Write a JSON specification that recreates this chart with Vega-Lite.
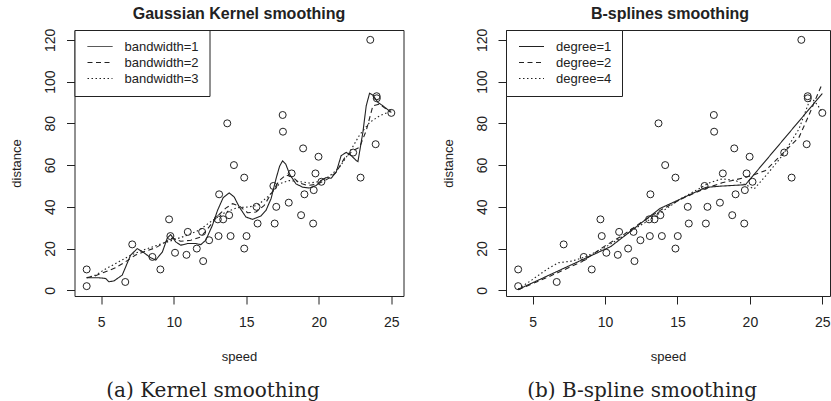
{
  "$schema": "https://vega.github.io/schema/vega-lite/v6.json",
  "background": "white",
  "padding": {"left": 9.5, "top": 5, "right": 0, "bottom": 0},
  "spacing": 36.5,
  "resolve": {"scale": {"strokeDash": "independent"}, "legend": {"strokeDash": "independent"}},
  "datasets": {
    "pts": [
      {"speed": 4, "dist": 10}, {"speed": 4, "dist": 2}, {"speed": 6.66, "dist": 4}, {"speed": 7.14, "dist": 22},
      {"speed": 8.53, "dist": 16}, {"speed": 9.08, "dist": 10}, {"speed": 9.68, "dist": 34}, {"speed": 9.77, "dist": 26},
      {"speed": 10.09, "dist": 18}, {"speed": 10.88, "dist": 17}, {"speed": 10.97, "dist": 28}, {"speed": 11.59, "dist": 20},
      {"speed": 12.03, "dist": 14}, {"speed": 11.96, "dist": 28}, {"speed": 12.44, "dist": 24}, {"speed": 13.09, "dist": 26},
      {"speed": 13.13, "dist": 46}, {"speed": 13.04, "dist": 34}, {"speed": 13.41, "dist": 34}, {"speed": 13.69, "dist": 80},
      {"speed": 13.82, "dist": 36}, {"speed": 13.92, "dist": 26}, {"speed": 14.15, "dist": 60}, {"speed": 14.86, "dist": 20},
      {"speed": 14.86, "dist": 54}, {"speed": 15.02, "dist": 26}, {"speed": 15.71, "dist": 40}, {"speed": 15.78, "dist": 32},
      {"speed": 16.96, "dist": 32}, {"speed": 17.07, "dist": 40}, {"speed": 16.87, "dist": 50}, {"speed": 17.51, "dist": 84},
      {"speed": 17.53, "dist": 76}, {"speed": 17.93, "dist": 42}, {"speed": 18.13, "dist": 56}, {"speed": 18.78, "dist": 36},
      {"speed": 18.92, "dist": 68}, {"speed": 19.01, "dist": 46}, {"speed": 19.61, "dist": 32}, {"speed": 19.65, "dist": 48},
      {"speed": 19.77, "dist": 56}, {"speed": 19.98, "dist": 64}, {"speed": 20.18, "dist": 52}, {"speed": 22.37, "dist": 66},
      {"speed": 22.88, "dist": 54}, {"speed": 23.55, "dist": 120}, {"speed": 23.92, "dist": 70}, {"speed": 23.99, "dist": 93},
      {"speed": 24.0, "dist": 92}, {"speed": 25.0, "dist": 85}
    ],
    "kern": [
      {"speed": 4.0, "dist": 6.0, "s": "bandwidth=1"}, {"speed": 4.84, "dist": 6.0, "s": "bandwidth=1"}, {"speed": 5.3, "dist": 5.7, "s": "bandwidth=1"},
      {"speed": 5.53, "dist": 4.1, "s": "bandwidth=1"}, {"speed": 5.88, "dist": 4.5, "s": "bandwidth=1"}, {"speed": 6.45, "dist": 7.3, "s": "bandwidth=1"},
      {"speed": 7.03, "dist": 16.9, "s": "bandwidth=1"}, {"speed": 7.49, "dist": 20, "s": "bandwidth=1"}, {"speed": 7.95, "dist": 18, "s": "bandwidth=1"},
      {"speed": 8.41, "dist": 15.6, "s": "bandwidth=1"}, {"speed": 8.76, "dist": 14.5, "s": "bandwidth=1"}, {"speed": 9.22, "dist": 18.4, "s": "bandwidth=1"},
      {"speed": 9.56, "dist": 25.1, "s": "bandwidth=1"}, {"speed": 9.79, "dist": 26.7, "s": "bandwidth=1"}, {"speed": 10.14, "dist": 23.2, "s": "bandwidth=1"},
      {"speed": 10.48, "dist": 21.6, "s": "bandwidth=1"}, {"speed": 10.94, "dist": 22.4, "s": "bandwidth=1"}, {"speed": 11.52, "dist": 22.4, "s": "bandwidth=1"},
      {"speed": 11.87, "dist": 21.9, "s": "bandwidth=1"}, {"speed": 12.21, "dist": 24, "s": "bandwidth=1"}, {"speed": 12.67, "dist": 31.2, "s": "bandwidth=1"},
      {"speed": 13.02, "dist": 38.3, "s": "bandwidth=1"}, {"speed": 13.41, "dist": 44.4, "s": "bandwidth=1"}, {"speed": 13.82, "dist": 46.7, "s": "bandwidth=1"},
      {"speed": 14.17, "dist": 44.7, "s": "bandwidth=1"}, {"speed": 14.52, "dist": 39.9, "s": "bandwidth=1"}, {"speed": 14.98, "dist": 35.1, "s": "bandwidth=1"},
      {"speed": 15.44, "dist": 34.0, "s": "bandwidth=1"}, {"speed": 16.01, "dist": 35.6, "s": "bandwidth=1"}, {"speed": 16.36, "dist": 38.3, "s": "bandwidth=1"},
      {"speed": 16.71, "dist": 43.9, "s": "bandwidth=1"}, {"speed": 17.05, "dist": 53.4, "s": "bandwidth=1"}, {"speed": 17.3, "dist": 59.5, "s": "bandwidth=1"},
      {"speed": 17.5, "dist": 62, "s": "bandwidth=1"}, {"speed": 17.72, "dist": 60.5, "s": "bandwidth=1"}, {"speed": 18.0, "dist": 55.5, "s": "bandwidth=1"},
      {"speed": 18.43, "dist": 51, "s": "bandwidth=1"}, {"speed": 18.89, "dist": 49.4, "s": "bandwidth=1"}, {"speed": 19.35, "dist": 49, "s": "bandwidth=1"},
      {"speed": 19.82, "dist": 50.2, "s": "bandwidth=1"}, {"speed": 20.16, "dist": 52.6, "s": "bandwidth=1"}, {"speed": 20.51, "dist": 54, "s": "bandwidth=1"},
      {"speed": 20.85, "dist": 53.7, "s": "bandwidth=1"}, {"speed": 21.2, "dist": 56.6, "s": "bandwidth=1"}, {"speed": 21.54, "dist": 64.5, "s": "bandwidth=1"},
      {"speed": 21.89, "dist": 66.1, "s": "bandwidth=1"}, {"speed": 22.24, "dist": 64.5, "s": "bandwidth=1"}, {"speed": 22.58, "dist": 62.2, "s": "bandwidth=1"},
      {"speed": 22.7, "dist": 61.7, "s": "bandwidth=1"}, {"speed": 23.04, "dist": 75.7, "s": "bandwidth=1"}, {"speed": 23.27, "dist": 88.4, "s": "bandwidth=1"},
      {"speed": 23.5, "dist": 94.4, "s": "bandwidth=1"}, {"speed": 23.73, "dist": 93.5, "s": "bandwidth=1"}, {"speed": 24.08, "dist": 90, "s": "bandwidth=1"},
      {"speed": 24.42, "dist": 88.4, "s": "bandwidth=1"}, {"speed": 25.0, "dist": 85.2, "s": "bandwidth=1"},

      {"speed": 4.0, "dist": 6, "s": "bandwidth=2"}, {"speed": 4.61, "dist": 7, "s": "bandwidth=2"}, {"speed": 5.3, "dist": 8.9, "s": "bandwidth=2"},
      {"speed": 5.99, "dist": 10.8, "s": "bandwidth=2"}, {"speed": 6.68, "dist": 13.7, "s": "bandwidth=2"}, {"speed": 7.37, "dist": 16.9, "s": "bandwidth=2"},
      {"speed": 8.06, "dist": 18.8, "s": "bandwidth=2"}, {"speed": 8.76, "dist": 20.4, "s": "bandwidth=2"}, {"speed": 9.45, "dist": 23.2, "s": "bandwidth=2"},
      {"speed": 9.91, "dist": 25.1, "s": "bandwidth=2"}, {"speed": 10.48, "dist": 23.5, "s": "bandwidth=2"}, {"speed": 11.18, "dist": 24, "s": "bandwidth=2"},
      {"speed": 11.87, "dist": 25.6, "s": "bandwidth=2"}, {"speed": 12.44, "dist": 30.4, "s": "bandwidth=2"}, {"speed": 13.02, "dist": 35.6, "s": "bandwidth=2"},
      {"speed": 13.59, "dist": 39.4, "s": "bandwidth=2"}, {"speed": 14.06, "dist": 41.5, "s": "bandwidth=2"}, {"speed": 14.52, "dist": 40.4, "s": "bandwidth=2"},
      {"speed": 15.09, "dist": 37.2, "s": "bandwidth=2"}, {"speed": 15.67, "dist": 37.5, "s": "bandwidth=2"}, {"speed": 16.24, "dist": 40.7, "s": "bandwidth=2"},
      {"speed": 16.82, "dist": 47.5, "s": "bandwidth=2"}, {"speed": 17.28, "dist": 52.6, "s": "bandwidth=2"}, {"speed": 17.74, "dist": 55.3, "s": "bandwidth=2"},
      {"speed": 18.2, "dist": 54.2, "s": "bandwidth=2"}, {"speed": 18.66, "dist": 51.4, "s": "bandwidth=2"}, {"speed": 19.24, "dist": 50.2, "s": "bandwidth=2"},
      {"speed": 19.93, "dist": 50.9, "s": "bandwidth=2"}, {"speed": 20.62, "dist": 53.4, "s": "bandwidth=2"}, {"speed": 21.2, "dist": 56.6, "s": "bandwidth=2"},
      {"speed": 21.77, "dist": 63.3, "s": "bandwidth=2"}, {"speed": 22.35, "dist": 66.9, "s": "bandwidth=2"}, {"speed": 22.81, "dist": 68.5, "s": "bandwidth=2"},
      {"speed": 23.27, "dist": 76.5, "s": "bandwidth=2"}, {"speed": 23.73, "dist": 88.4, "s": "bandwidth=2"}, {"speed": 24.19, "dist": 89.2, "s": "bandwidth=2"},
      {"speed": 24.65, "dist": 86.8, "s": "bandwidth=2"}, {"speed": 25.0, "dist": 86.3, "s": "bandwidth=2"},

      {"speed": 4.0, "dist": 6, "s": "bandwidth=3"}, {"speed": 4.61, "dist": 7.3, "s": "bandwidth=3"}, {"speed": 5.3, "dist": 10.2, "s": "bandwidth=3"},
      {"speed": 6.22, "dist": 13.7, "s": "bandwidth=3"}, {"speed": 7.14, "dist": 17.2, "s": "bandwidth=3"}, {"speed": 8.06, "dist": 19.7, "s": "bandwidth=3"},
      {"speed": 8.99, "dist": 21.9, "s": "bandwidth=3"}, {"speed": 9.91, "dist": 24, "s": "bandwidth=3"}, {"speed": 10.83, "dist": 26.1, "s": "bandwidth=3"},
      {"speed": 11.75, "dist": 28.8, "s": "bandwidth=3"}, {"speed": 12.67, "dist": 33.5, "s": "bandwidth=3"}, {"speed": 13.59, "dist": 37.5, "s": "bandwidth=3"},
      {"speed": 14.4, "dist": 39.6, "s": "bandwidth=3"}, {"speed": 15.09, "dist": 39.9, "s": "bandwidth=3"}, {"speed": 15.78, "dist": 40.7, "s": "bandwidth=3"},
      {"speed": 16.59, "dist": 45.5, "s": "bandwidth=3"}, {"speed": 17.28, "dist": 51, "s": "bandwidth=3"}, {"speed": 17.97, "dist": 52.6, "s": "bandwidth=3"},
      {"speed": 18.66, "dist": 52.1, "s": "bandwidth=3"}, {"speed": 19.35, "dist": 51.4, "s": "bandwidth=3"}, {"speed": 20.05, "dist": 52.1, "s": "bandwidth=3"},
      {"speed": 20.74, "dist": 54.7, "s": "bandwidth=3"}, {"speed": 21.43, "dist": 59, "s": "bandwidth=3"}, {"speed": 22.12, "dist": 66.1, "s": "bandwidth=3"},
      {"speed": 22.81, "dist": 74.4, "s": "bandwidth=3"}, {"speed": 23.5, "dist": 80.4, "s": "bandwidth=3"}, {"speed": 24.19, "dist": 83.6, "s": "bandwidth=3"},
      {"speed": 25.0, "dist": 86, "s": "bandwidth=3"}
    ],
    "spl": [
      {"speed": 4.0, "dist": 0.4, "s": "degree=1"}, {"speed": 10.4, "dist": 21, "s": "degree=1"}, {"speed": 13.81, "dist": 39.3, "s": "degree=1"},
      {"speed": 16.95, "dist": 49.3, "s": "degree=1"}, {"speed": 17.96, "dist": 49.9, "s": "degree=1"}, {"speed": 19.69, "dist": 50.6, "s": "degree=1"},
      {"speed": 25.0, "dist": 94.3, "s": "degree=1"},

      {"speed": 4.0, "dist": 0.3, "s": "degree=2"}, {"speed": 6.08, "dist": 6.4, "s": "degree=2"}, {"speed": 8.39, "dist": 13.7, "s": "degree=2"},
      {"speed": 10.0, "dist": 21.3, "s": "degree=2"}, {"speed": 11.16, "dist": 26.1, "s": "degree=2"}, {"speed": 12.54, "dist": 32.8, "s": "degree=2"},
      {"speed": 13.93, "dist": 38.8, "s": "degree=2"}, {"speed": 15.31, "dist": 43.9, "s": "degree=2"}, {"speed": 16.7, "dist": 48.2, "s": "degree=2"},
      {"speed": 18.08, "dist": 51.5, "s": "degree=2"}, {"speed": 19.46, "dist": 53.7, "s": "degree=2"}, {"speed": 20.16, "dist": 55, "s": "degree=2"},
      {"speed": 21.08, "dist": 57.4, "s": "degree=2"}, {"speed": 22.23, "dist": 65.3, "s": "degree=2"}, {"speed": 23.39, "dist": 73.3, "s": "degree=2"},
      {"speed": 24.08, "dist": 84, "s": "degree=2"}, {"speed": 24.5, "dist": 91, "s": "degree=2"}, {"speed": 24.95, "dist": 98.3, "s": "degree=2"},

      {"speed": 4.0, "dist": 0.6, "s": "degree=4"}, {"speed": 4.93, "dist": 4.9, "s": "degree=4"}, {"speed": 6.08, "dist": 10.5, "s": "degree=4"},
      {"speed": 6.78, "dist": 13.2, "s": "degree=4"}, {"speed": 7.7, "dist": 14, "s": "degree=4"}, {"speed": 8.62, "dist": 16, "s": "degree=4"},
      {"speed": 9.78, "dist": 19.7, "s": "degree=4"}, {"speed": 10.93, "dist": 24.5, "s": "degree=4"}, {"speed": 12.08, "dist": 29.6, "s": "degree=4"},
      {"speed": 13.0, "dist": 33.5, "s": "degree=4"}, {"speed": 14.16, "dist": 38.8, "s": "degree=4"}, {"speed": 15.31, "dist": 44.2, "s": "degree=4"},
      {"speed": 16.46, "dist": 48.6, "s": "degree=4"}, {"speed": 17.16, "dist": 51.4, "s": "degree=4"}, {"speed": 18.08, "dist": 53.4, "s": "degree=4"},
      {"speed": 19.0, "dist": 52.6, "s": "degree=4"}, {"speed": 19.69, "dist": 50.6, "s": "degree=4"}, {"speed": 20.3, "dist": 48.6, "s": "degree=4"},
      {"speed": 21.31, "dist": 56.6, "s": "degree=4"}, {"speed": 22.23, "dist": 64.5, "s": "degree=4"}, {"speed": 23.39, "dist": 77.3, "s": "degree=4"},
      {"speed": 23.8, "dist": 85, "s": "degree=4"}, {"speed": 24.1, "dist": 90.5, "s": "degree=4"}, {"speed": 24.4, "dist": 91, "s": "degree=4"},
      {"speed": 24.7, "dist": 88.5, "s": "degree=4"}, {"speed": 25.0, "dist": 85, "s": "degree=4"}
    ]
  },
  "hconcat": [
    {
      "title": {"text": "(a) Kernel smoothing", "orient": "bottom", "anchor": "middle", "frame": "bounds", "font": "DejaVu Serif", "fontSize": 20, "fontWeight": "normal", "color": "#222", "offset": 17, "dx": 6},
      "vconcat": [
        {
          "title": {"text": "Gaussian Kernel smoothing", "font": "Liberation Sans", "fontSize": 16, "fontWeight": "bold", "color": "#222", "offset": 6, "anchor": "middle"},
          "width": 329,
          "height": 266,
          "layer": [
            {
              "data": {"name": "pts"},
              "mark": {"type": "point", "shape": "circle", "filled": false, "size": 49, "strokeWidth": 1, "color": "#222", "opacity": 1},
              "encoding": {
                "x": {"field": "speed", "type": "quantitative", "scale": {"domain": [3.16, 25.84], "nice": false, "zero": false}, "axis": {"values": [5, 10, 15, 20, 25], "title": "speed"}},
                "y": {"field": "dist", "type": "quantitative", "scale": {"domain": [-2.72, 124.72], "nice": false, "zero": false}, "axis": {"values": [0, 20, 40, 60, 80, 100, 120], "title": "distance"}}
              }
            },
            {
              "data": {"name": "kern"},
              "mark": {"type": "line", "strokeWidth": 1.1, "color": "#222"},
              "encoding": {
                "x": {"field": "speed", "type": "quantitative"},
                "y": {"field": "dist", "type": "quantitative"},
                "strokeDash": {"field": "s", "type": "nominal", "scale": {"domain": ["bandwidth=1", "bandwidth=2", "bandwidth=3"], "range": [[1, 0], [5, 3.5], [1.5, 2.5]]}, "legend": {"title": null, "symbolStrokeColor": "#222"}}
              }
            }
          ]
        }
      ]
    },
    {
      "title": {"text": "(b) B-spline smoothing", "orient": "bottom", "anchor": "middle", "frame": "bounds", "font": "DejaVu Serif", "fontSize": 20, "fontWeight": "normal", "color": "#222", "offset": 17, "dx": 6},
      "vconcat": [
        {
          "title": {"text": "B-splines smoothing", "font": "Liberation Sans", "fontSize": 16, "fontWeight": "bold", "color": "#222", "offset": 6, "anchor": "middle", "dx": 2},
          "width": 324,
          "height": 266,
          "layer": [
            {
              "data": {"name": "pts"},
              "mark": {"type": "point", "shape": "circle", "filled": false, "size": 49, "strokeWidth": 1, "color": "#222", "opacity": 1},
              "encoding": {
                "x": {"field": "speed", "type": "quantitative", "scale": {"domain": [3.16, 25.53], "nice": false, "zero": false}, "axis": {"values": [5, 10, 15, 20, 25], "title": "speed"}},
                "y": {"field": "dist", "type": "quantitative", "scale": {"domain": [-2.72, 124.72], "nice": false, "zero": false}, "axis": {"values": [0, 20, 40, 60, 80, 100, 120], "title": "distance"}}
              }
            },
            {
              "data": {"name": "spl"},
              "mark": {"type": "line", "strokeWidth": 1.1, "color": "#222"},
              "encoding": {
                "x": {"field": "speed", "type": "quantitative"},
                "y": {"field": "dist", "type": "quantitative"},
                "strokeDash": {"field": "s", "type": "nominal", "scale": {"domain": ["degree=1", "degree=2", "degree=4"], "range": [[1, 0], [5, 3.5], [1.5, 2.5]]}, "legend": {"title": null, "symbolStrokeColor": "#222"}}
              }
            }
          ]
        }
      ]
    }
  ],
  "config": {
    "view": {"stroke": "#222", "strokeWidth": 1},
    "axis": {
      "grid": false, "domain": false, "tickColor": "#222", "tickSize": 8, "tickWidth": 1,
      "labelColor": "#222", "labelFont": "Liberation Sans", "labelFontSize": 14, "labelFlush": false,
      "titleFont": "Liberation Sans", "titleFontSize": 13, "titleFontWeight": "normal", "titleColor": "#222"
    },
    "axisX": {"labelPadding": 11, "titlePadding": 21},
    "axisY": {"labelAngle": -90, "labelAlign": "center", "labelBaseline": "bottom", "labelPadding": 9, "titlePadding": 20},
    "legend": {
      "orient": "top-left", "offset": 0, "padding": 10, "strokeColor": "#222", "fillColor": "white",
      "symbolType": "M-2.5,0H2.5", "symbolSize": 100, "symbolStrokeWidth": 1, "symbolStrokeColor": "#222",
      "symbolOffset": 9, "labelOffset": 18, "labelFont": "Liberation Sans", "labelFontSize": 13, "labelColor": "#222",
      "rowPadding": 2, "labelLimit": 300
    }
  }
}
